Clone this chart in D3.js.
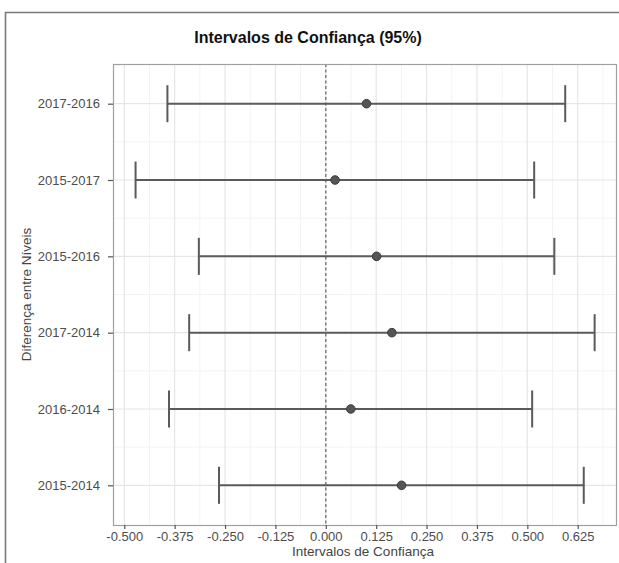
<!DOCTYPE html>
<html>
<head>
<meta charset="utf-8">
<script src="https://cdn.jsdelivr.net/npm/d3@7"></script>
<style>
  body { margin: 0; background: #fff; overflow: hidden; }
  svg { display: block; font-family: "Liberation Sans", Arial, sans-serif; }
</style>
</head>
<body>
<div id="chart"></div>
<script>
// comparisons, top to bottom
const comparisons = ['2017-2016', '2015-2017', '2015-2016', '2017-2014', '2016-2014', '2015-2014'];
const estimates = [0.101, 0.023, 0.126, 0.164, 0.062, 0.188];
const lowerBounds = [-0.393, -0.472, -0.315, -0.339, -0.389, -0.265];
const upperBounds = [0.594, 0.517, 0.567, 0.667, 0.512, 0.640];
const xTicks = [-0.5, -0.375, -0.25, -0.125, 0, 0.125, 0.25, 0.375, 0.5, 0.625];

const rows = comparisons.map((c, i) => ({ c, est: estimates[i], lo: lowerBounds[i], hi: upperBounds[i] }));

const W = 619, H = 563;
const panel = { left: 113, top: 64, right: 617, bottom: 525 };

const svg = d3.select('#chart').append('svg')
        .attr('width', W)
        .attr('height', H);

// outer frame: only top and left edges are in the shot
svg.append('path')
        .attr('d', `M5.5,${H}V12.5H${W}`)
        .attr('fill', 'none')
        .attr('stroke', '#7a7a7a')
        .attr('stroke-width', 1.6);

const x = d3.scaleLinear()
        .domain([-0.528, 0.7225])
        .range([panel.left, panel.right]);

const y = d3.scalePoint()
        .domain(comparisons)
        .range([panel.top, panel.bottom])
        .padding(0.52);

const g = svg.append('g');

// minor grid
const minorX = xTicks.map(t => t + 0.0625).filter(v => x(v) > panel.left && x(v) < panel.right);
g.selectAll('.minor-x').data(minorX).join('line')
        .attr('x1', d => x(d)).attr('x2', d => x(d))
        .attr('y1', panel.top).attr('y2', panel.bottom)
        .attr('stroke', '#f3f3f3').attr('stroke-width', 1);

const step = y.step();
const minorY = comparisons.slice(0, -1).map(c => y(c) + step / 2);
g.selectAll('.minor-y').data(minorY).join('line')
        .attr('x1', panel.left).attr('x2', panel.right)
        .attr('y1', d => d).attr('y2', d => d)
        .attr('stroke', '#f3f3f3').attr('stroke-width', 1);

// major grid
g.selectAll('.major-x').data(xTicks).join('line')
        .attr('x1', d => x(d)).attr('x2', d => x(d))
        .attr('y1', panel.top).attr('y2', panel.bottom)
        .attr('stroke', '#e6e6e6').attr('stroke-width', 1.2);

g.selectAll('.major-y').data(comparisons).join('line')
        .attr('x1', panel.left).attr('x2', panel.right)
        .attr('y1', d => y(d)).attr('y2', d => y(d))
        .attr('stroke', '#e6e6e6').attr('stroke-width', 1.2);

// zero reference
g.append('line')
        .attr('x1', x(0)).attr('x2', x(0))
        .attr('y1', panel.top).attr('y2', panel.bottom)
        .attr('stroke', '#6e6e6e')
        .attr('stroke-width', 1.3)
        .attr('stroke-dasharray', '3,2.5');

// error bars
const capH = 18.5;
const bars = g.selectAll('.bar').data(rows).join('g');
bars.append('line')
        .attr('x1', d => x(d.lo)).attr('x2', d => x(d.hi))
        .attr('y1', d => y(d.c)).attr('y2', d => y(d.c))
        .attr('stroke', '#5a5a5a').attr('stroke-width', 2);
bars.append('line')
        .attr('x1', d => x(d.lo)).attr('x2', d => x(d.lo))
        .attr('y1', d => y(d.c) - capH).attr('y2', d => y(d.c) + capH)
        .attr('stroke', '#5a5a5a').attr('stroke-width', 2);
bars.append('line')
        .attr('x1', d => x(d.hi)).attr('x2', d => x(d.hi))
        .attr('y1', d => y(d.c) - capH).attr('y2', d => y(d.c) + capH)
        .attr('stroke', '#5a5a5a').attr('stroke-width', 2);
bars.append('circle')
        .attr('cx', d => x(d.est)).attr('cy', d => y(d.c))
        .attr('r', 4.3)
        .attr('fill', '#555')
        .attr('stroke', '#3c3c3c').attr('stroke-width', 1);

// panel border
svg.append('rect')
        .attr('x', panel.left + 0.5).attr('y', panel.top + 0.5)
        .attr('width', panel.right - panel.left - 1).attr('height', panel.bottom - panel.top)
        .attr('fill', 'none')
        .attr('stroke', '#a0a0a0').attr('stroke-width', 1.2);

// axes
const xAxis = svg.append('g')
        .attr('transform', `translate(0,${panel.bottom})`)
        .call(d3.axisBottom(x).tickValues(xTicks).tickSizeOuter(0).tickSize(4).tickPadding(3));
xAxis.select('.domain').remove();
xAxis.selectAll('line').attr('stroke', '#555').attr('stroke-width', 1.2);
xAxis.selectAll('text').attr('fill', '#4d4d4d').style('font-size', '13px')
        .text(d => d3.format('.3f')(d).replace('−', '-'));

const yAxis = svg.append('g')
        .attr('transform', `translate(${panel.left},0)`)
        .call(d3.axisLeft(y).tickSizeOuter(0).tickSize(5).tickPadding(8));
yAxis.select('.domain').remove();
yAxis.selectAll('line').attr('stroke', '#555').attr('stroke-width', 1.2);
yAxis.selectAll('text').attr('fill', '#4d4d4d').style('font-size', '13px');

// titles
svg.append('text')
        .attr('x', 308).attr('y', 43)
        .attr('text-anchor', 'middle')
        .style('font-size', '16px')
        .style('font-weight', 'bold')
        .attr('fill', '#111')
        .text('Intervalos de Confiança (95%)');

svg.append('text')
        .attr('x', (panel.left + panel.right) / 2 - 2).attr('y', 556)
        .attr('text-anchor', 'middle')
        .style('font-size', '13.5px')
        .attr('fill', '#444')
        .text('Intervalos de Confiança');

svg.append('text')
        .attr('transform', `translate(31,${(panel.top + panel.bottom) / 2}) rotate(-90)`)
        .attr('text-anchor', 'middle')
        .style('font-size', '13.5px')
        .attr('fill', '#444')
        .text('Diferença entre Níveis');
</script>
</body>
</html>
